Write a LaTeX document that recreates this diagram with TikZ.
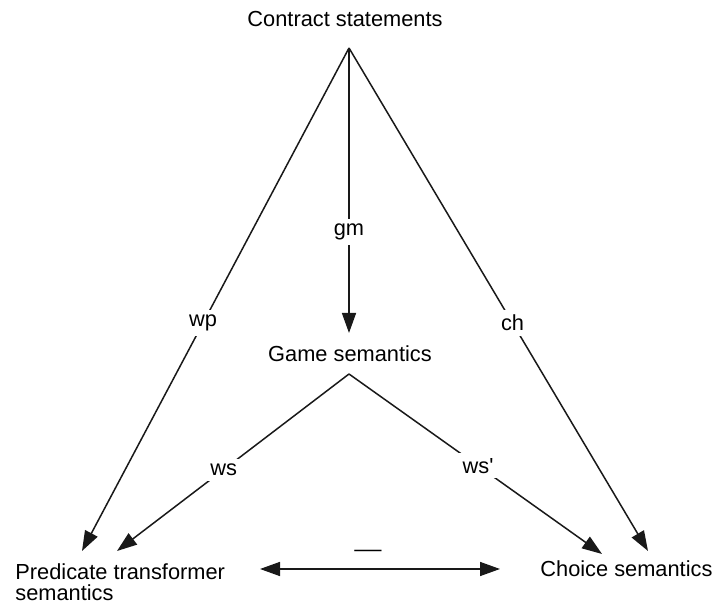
\documentclass[tikz,border=0pt]{standalone}
\usepackage{fontspec}
\setmainfont{Liberation Sans}
\usetikzlibrary{arrows.meta}
\begin{document}
\begin{tikzpicture}[x=0.5pt,y=-0.5pt,
  every node/.style={font=\fontsize{10.9}{10.9}\selectfont, inner sep=0pt},
  tip/.tip={Triangle[length=10pt,width=7pt]},
  conn/.style={line width=0.75pt, draw=black!90, -tip},
  both/.style={line width=0.75pt, draw=black!90, tip-tip},
  lbl/.style={fill=white, inner sep=2.5pt}]
\useasboundingbox (0,0) rectangle (718,608);
% the four semantics
\node[anchor=base] (cs) at (345,27) {Contract statements};
\node[anchor=base] (gs) at (350,362) {Game semantics};
\node[anchor=base west, align=left] (pts) at (15,601) {Predicate transformer\\semantics};
\node[anchor=base west] (chs) at (540,577) {Choice semantics};
% attachment points of the connectors
\coordinate (csTop) at (349,48);
\coordinate (gsIn) at (349,333);
\coordinate (gsOut) at (349,374);
\coordinate (ptsWp) at (82,551);
\coordinate (ptsWs) at (117,551);
\coordinate (chsWs) at (602,554);
\coordinate (chsCh) at (648,551);
\coordinate (ptsR) at (260,569);
\coordinate (chsL) at (500,569);
% mappings between them
\draw[conn] (csTop) -- node[lbl, pos=0.645] (gm) {gm} (gsIn);
\draw[conn] (csTop) -- node[lbl, pos=0.547] (wp) {wp} (ptsWp);
\draw[conn] (csTop) -- node[lbl, pos=0.547] (ch) {ch} (chsCh);
\draw[conn] (gsOut) -- node[lbl, pos=0.54] (ws) {ws} (ptsWs);
\draw[conn] (gsOut) -- node[lbl, pos=0.51] (wsp) {ws\textquotesingle} (chsWs);
\draw[both] (ptsR) -- (chsL);
\node (eq) at (368,553) {\scalebox{1.25}[1]{—}};
\end{tikzpicture}
\end{document}
